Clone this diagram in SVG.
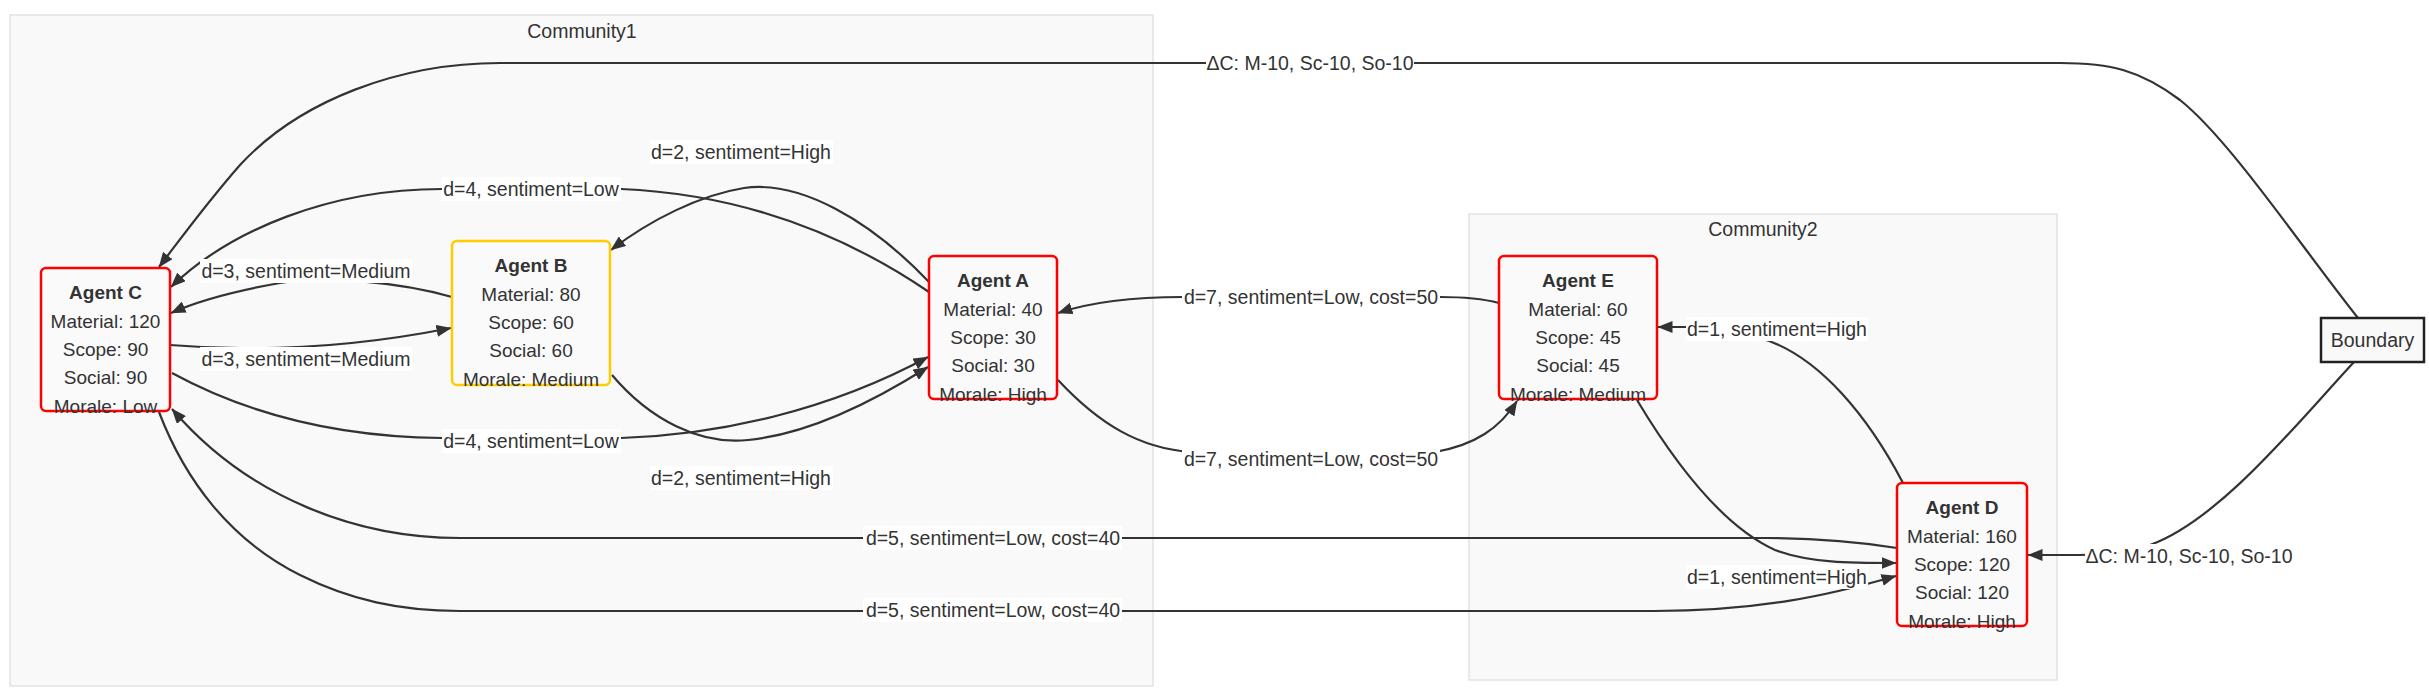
<svg xmlns="http://www.w3.org/2000/svg" width="2429" height="692" viewBox="0 0 2429 692">
<defs>
<marker id="arrow" viewBox="0 0 15 12" refX="14.5" refY="6" markerWidth="15" markerHeight="12" markerUnits="userSpaceOnUse" orient="auto">
<path d="M0,0 L15,6 L0,12 z" fill="#333"/>
</marker>
<style>
text{font-family:"Liberation Sans",Arial,Helvetica,sans-serif;fill:#333;}
.cluster rect{fill:#f9f9f9;stroke:#e2e2e2;stroke-width:1.5;}
.clabel{font-size:19.5px;text-anchor:middle;}
.edge{fill:none;stroke:#333;stroke-width:2.2;}
.arrow{marker-end:url(#arrow);}
.lbg{fill:#ffffff;}
.ltxt{font-size:19.5px;text-anchor:middle;}
.agent rect{fill:#fafafa;stroke:#ff0000;stroke-width:2.5;}
.agent.yellow rect{stroke:#ffcc00;}
.agent text{font-size:19px;text-anchor:middle;}
.agent .title{font-weight:bold;}
.boundary rect{fill:#f9f9f9;stroke:#222;stroke-width:2.5;}
.boundary text{font-size:19.5px;text-anchor:middle;}
</style>
</defs>
<rect width="2429" height="692" fill="#ffffff"/>

<g id="community1" class="cluster">
<rect x="10" y="15" width="1143" height="671"/>
<text class="clabel" x="582" y="38">Community1</text>
</g>
<g id="community2" class="cluster">
<rect x="1469" y="214" width="588" height="466"/>
<text class="clabel" x="1763" y="236">Community2</text>
</g>

<g id="connectors">
<!-- Boundary -> Agent C -->
<path class="edge arrow" d="M2358,318 C2300,245 2230,140 2180,100 C2140,70 2110,63 2060,63 L500,63 C400,63 300,100 240,165 C205,205 182,237 159,267"/>
<!-- Boundary -> Agent D -->
<path class="edge arrow" d="M2354,362 C2300,420 2220,520 2150,545 C2120,553 2100,555 2080,555 L2028,555"/>
<!-- Agent E -> Agent A -->
<path class="edge arrow" d="M1499,303 C1480,298 1460,297 1440,297 L1183,297 C1120,297 1085,304 1058,313"/>
<!-- Agent A -> Agent E -->
<path class="edge arrow" d="M1058,380 C1100,425 1140,448 1190,452 L1435,452 C1475,445 1500,428 1517,401"/>
<!-- Agent D -> Agent E -->
<path class="edge arrow" d="M1903,483 C1870,420 1820,355 1760,338 C1730,330 1700,327 1687,327 L1658,327"/>
<!-- Agent E -> Agent D -->
<path class="edge arrow" d="M1637,400 C1670,455 1720,525 1775,550 C1810,563 1850,563 1896,563"/>
<!-- Agent D -> Agent C -->
<path class="edge arrow" d="M1897,548 C1860,542 1820,538 1766,538 L460,538 C360,538 250,500 172,409"/>
<!-- Agent C -> Agent D -->
<path class="edge arrow" d="M159,412 C185,480 230,540 300,575 C350,600 400,611 460,611 L1654,611 C1760,611 1830,595 1896,576"/>
<!-- Agent A -> Agent C (d=4) -->
<path class="edge arrow" d="M929,292 C860,245 760,195 621,189 L442,189 C330,189 230,230 171,287"/>
<!-- Agent B -> Agent C (d=3) -->
<path class="edge arrow" d="M452,297 C400,282 320,275 280,283 C240,290 200,300 171,313"/>
<!-- Agent C -> Agent B (d=3) -->
<path class="edge arrow" d="M170,345 C230,350 330,352 451,328"/>
<!-- Agent C -> Agent A (d=4) -->
<path class="edge arrow" d="M172,373 C240,410 330,437 442,438 L621,438 C720,435 830,410 928,357"/>
<!-- Agent A -> Agent B (d=2) -->
<path class="edge arrow" d="M929,282 C870,220 800,180 744,188 C700,195 650,220 611,250"/>
<!-- Agent B -> Agent A (d=2) -->
<path class="edge arrow" d="M612,375 C650,420 700,445 748,440 C800,435 860,410 928,367"/>
</g>

<g id="edge-labels">
<rect class="lbg" x="1206" y="51" width="208" height="24"/>
<text class="ltxt" x="1310" y="70">ΔC: M-10, Sc-10, So-10</text>
<rect class="lbg" x="2085" y="544" width="208" height="24"/>
<text class="ltxt" x="2189" y="563">ΔC: M-10, Sc-10, So-10</text>
<rect class="lbg" x="1182" y="285" width="258" height="24"/>
<text class="ltxt" x="1311" y="304">d=7, sentiment=Low, cost=50</text>
<rect class="lbg" x="1182" y="447" width="258" height="24"/>
<text class="ltxt" x="1311" y="466">d=7, sentiment=Low, cost=50</text>
<rect class="lbg" x="1686" y="317" width="182" height="24"/>
<text class="ltxt" x="1777" y="336">d=1, sentiment=High</text>
<rect class="lbg" x="1686" y="565" width="182" height="24"/>
<text class="ltxt" x="1777" y="584">d=1, sentiment=High</text>
<rect class="lbg" x="863" y="526" width="259" height="24"/>
<text class="ltxt" x="993" y="545">d=5, sentiment=Low, cost=40</text>
<rect class="lbg" x="863" y="598" width="259" height="24"/>
<text class="ltxt" x="993" y="617">d=5, sentiment=Low, cost=40</text>
<rect class="lbg" x="442" y="177" width="179" height="24"/>
<text class="ltxt" x="531" y="196">d=4, sentiment=Low</text>
<rect class="lbg" x="442" y="429" width="179" height="24"/>
<text class="ltxt" x="531" y="448">d=4, sentiment=Low</text>
<rect class="lbg" x="200" y="259" width="212" height="24"/>
<text class="ltxt" x="306" y="278">d=3, sentiment=Medium</text>
<rect class="lbg" x="200" y="347" width="212" height="24"/>
<text class="ltxt" x="306" y="366">d=3, sentiment=Medium</text>
<rect class="lbg" x="650" y="140" width="183" height="24"/>
<text class="ltxt" x="741" y="159">d=2, sentiment=High</text>
<rect class="lbg" x="650" y="466" width="183" height="24"/>
<text class="ltxt" x="741" y="485">d=2, sentiment=High</text>
</g>

<g id="agent-c" class="agent">
<rect x="41" y="268" width="129" height="143" rx="5"/>
<text class="title" x="105.5" y="299">Agent C</text>
<text x="105.5" y="328">Material: 120</text>
<text x="105.5" y="356">Scope: 90</text>
<text x="105.5" y="384">Social: 90</text>
<text x="105.5" y="413">Morale: Low</text>
</g>
<g id="agent-b" class="agent yellow">
<rect x="452" y="241" width="158" height="144" rx="5"/>
<text class="title" x="531" y="272">Agent B</text>
<text x="531" y="301">Material: 80</text>
<text x="531" y="329">Scope: 60</text>
<text x="531" y="357">Social: 60</text>
<text x="531" y="386">Morale: Medium</text>
</g>
<g id="agent-a" class="agent">
<rect x="929" y="256" width="128" height="143" rx="5"/>
<text class="title" x="993" y="287">Agent A</text>
<text x="993" y="316">Material: 40</text>
<text x="993" y="344">Scope: 30</text>
<text x="993" y="372">Social: 30</text>
<text x="993" y="401">Morale: High</text>
</g>
<g id="agent-e" class="agent">
<rect x="1499" y="256" width="158" height="143" rx="5"/>
<text class="title" x="1578" y="287">Agent E</text>
<text x="1578" y="316">Material: 60</text>
<text x="1578" y="344">Scope: 45</text>
<text x="1578" y="372">Social: 45</text>
<text x="1578" y="401">Morale: Medium</text>
</g>
<g id="agent-d" class="agent">
<rect x="1897" y="483" width="130" height="143" rx="5"/>
<text class="title" x="1962" y="514">Agent D</text>
<text x="1962" y="543">Material: 160</text>
<text x="1962" y="571">Scope: 120</text>
<text x="1962" y="599">Social: 120</text>
<text x="1962" y="628">Morale: High</text>
</g>
<g id="boundary" class="boundary">
<rect x="2321" y="318" width="103" height="44"/>
<text x="2372.5" y="347">Boundary</text>
</g>
</svg>
